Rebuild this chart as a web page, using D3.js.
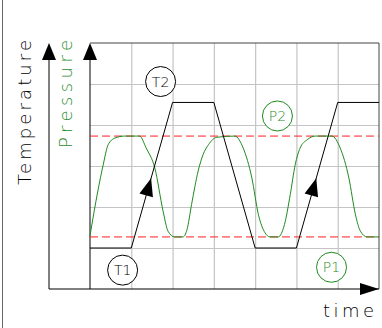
<!DOCTYPE html>
<html lang="en">
<head>
  <meta charset="UTF-8">
  <title>Temperature / Pressure</title>
  <style>
    body, html {
      margin: 0;
      padding: 0;
      background: #fff;
    }
    svg text {
      font-family: 'DejaVu Sans', sans-serif;
      font-weight: 200;
    }
  </style>
</head>
<body>
  <svg id="chart" width="382" height="328"></svg>

  <script src="https://d3js.org/d3.v7.min.js"></script>
  <script>
    // -------- DATA ------------
    // time in grid columns (0..7), values in grid rows (0..6)
    const xTicks = [1, 2, 3, 4, 5, 6]
    const yTicks = [1, 2, 3, 4, 5]

    const tempTime = [0, 1, 2, 3, 4, 5, 6, 7]
    const tempValue = [1, 1, 4.55, 4.55, 1, 1, 4.55, 4.55]

    const pressTime = [0, 0.19, 0.32, 0.44, 0.6, 0.84, 1.2, 1.36, 1.57, 1.77, 1.89, 2.05, 2.25, 2.35, 2.46,
      2.62, 2.74, 2.87, 3.07, 3.51, 3.71, 3.92, 4.08, 4.24, 4.36, 4.56, 4.71, 4.85, 4.97, 5.09,
      5.26, 5.46, 5.86, 6.06, 6.27, 6.43, 6.55, 6.71, 7]
    const pressValue = [1.3, 2.39, 3.03, 3.52, 3.68, 3.73, 3.73, 3.44, 2.95, 1.9, 1.41, 1.27, 1.27, 1.45, 2.06,
      2.88, 3.28, 3.52, 3.7, 3.73, 3.44, 2.71, 1.81, 1.37, 1.27, 1.27, 1.57, 2.3, 3.03, 3.44,
      3.64, 3.73, 3.73, 3.44, 2.71, 1.81, 1.41, 1.27, 1.27]

    // pressure limits (red dashed)
    const limits = [1.27, 3.73]

    // circled labels
    const labelNames = ['T1', 'T2', 'P1', 'P2']
    const labelTime = [0.79, 1.71, 5.85, 4.54]
    const labelValue = [0.46, 5.06, 0.53, 4.22]

    // -------- SETUP ------------
    const svg = d3.select('#chart')
    const green = '#1f8a1f'

    const plot = {left: 90, right: 379, top: 43, bottom: 289}
    const axis2 = 49 // second vertical axis

    const xScale = d3.scaleLinear().domain([0, 7]).range([plot.left, plot.right])
    const yScale = d3.scaleLinear().domain([0, 6]).range([plot.bottom, plot.top])

    // page frame (left edge only)
    svg.append('line')
      .attr('x1', 2.5).attr('x2', 2.5)
      .attr('y1', 0).attr('y2', 328)
      .attr('stroke', '#666')

    // -------- GRID ------------
    const gridX = svg.append('g')
      .attr('transform', `translate(0, ${plot.bottom})`)
      .call(d3.axisBottom(xScale).tickValues(xTicks).tickSize(-(plot.bottom - plot.top)).tickFormat(''))
    const gridY = svg.append('g')
      .attr('transform', `translate(${plot.left}, 0)`)
      .call(d3.axisLeft(yScale).tickValues(yTicks).tickSize(-(plot.right - plot.left)).tickFormat(''))
    ;[gridX, gridY].forEach(g => {
      g.select('.domain').remove()
      g.selectAll('line').attr('stroke', '#c4c4c4').attr('stroke-width', 1.2)
    })

    // top and right border
    svg.append('path')
      .attr('d', `M${plot.left},${plot.top}H${plot.right}V${plot.bottom}`)
      .attr('fill', 'none')
      .attr('stroke', '#444')

    // -------- AXES ------------
    svg.append('line')
      .attr('x1', axis2).attr('x2', plot.right)
      .attr('y1', plot.bottom).attr('y2', plot.bottom)
      .attr('stroke', '#000')
    ;[axis2, plot.left].forEach(ax => {
      svg.append('line')
        .attr('x1', ax).attr('x2', ax)
        .attr('y1', plot.top + 5).attr('y2', plot.bottom)
        .attr('stroke', '#000')
      svg.append('path')
        .attr('d', `M${ax},${plot.top}L${ax - 7},${plot.top + 17}L${ax + 7},${plot.top + 17}Z`)
        .attr('fill', '#000')
    })
    svg.append('path')
      .attr('d', `M${plot.right},${plot.bottom}L${plot.right - 19},${plot.bottom - 6}L${plot.right - 19},${plot.bottom + 6}Z`)
      .attr('fill', '#000')

    // axis titles
    svg.append('text')
      .attr('transform', `translate(31, 40) rotate(-90)`)
      .attr('text-anchor', 'end')
      .attr('textLength', 145)
      .attr('lengthAdjust', 'spacing')
      .style('font-size', '18px')
      .attr('fill', '#000')
      .text('Temperature')
    svg.append('text')
      .attr('transform', `translate(72, 40) rotate(-90)`)
      .attr('text-anchor', 'end')
      .attr('textLength', 108)
      .attr('lengthAdjust', 'spacing')
      .style('font-size', '18px')
      .attr('fill', green)
      .text('Pressure')
    svg.append('text')
      .attr('x', 323)
      .attr('y', 317)
      .attr('textLength', 51)
      .attr('lengthAdjust', 'spacing')
      .style('font-size', '18px')
      .attr('fill', '#000')
      .text('time')

    // -------- LIMITS ------------
    svg.selectAll('.limit')
      .data(limits)
      .enter()
      .append('line')
      .attr('class', 'limit')
      .attr('x1', plot.left).attr('x2', plot.right)
      .attr('y1', d => yScale(d)).attr('y2', d => yScale(d))
      .attr('stroke', '#ff2020')
      .attr('stroke-dasharray', '8,4')

    // -------- PRESSURE ------------
    const pressData = pressTime.map((t, i) => ({ t, v: pressValue[i] }))
    svg.append('path')
      .datum(pressData)
      .attr('fill', 'none')
      .attr('stroke', green)
      .attr('stroke-width', 1)
      .attr('d', d3.line().x(d => xScale(d.t)).y(d => yScale(d.v)).curve(d3.curveMonotoneX))

    // -------- TEMPERATURE ------------
    const tempData = tempTime.map((t, i) => ({ t, v: tempValue[i] }))
    svg.append('path')
      .datum(tempData)
      .attr('fill', 'none')
      .attr('stroke', '#000')
      .attr('stroke-width', 1)
      .attr('d', d3.line().x(d => xScale(d.t)).y(d => yScale(d.v)))

    // arrows on the rising segments
    tempData.forEach((d, i) => {
      const next = tempData[i + 1]
      if (!next || next.v <= d.v) return
      const x0 = xScale(d.t), y0 = yScale(d.v)
      const x1 = xScale(next.t), y1 = yScale(next.v)
      const len = Math.hypot(x1 - x0, y1 - y0)
      const ux = (x1 - x0) / len, uy = (y1 - y0) / len
      const tipX = x0 + (x1 - x0) * 0.48, tipY = y0 + (y1 - y0) * 0.48
      const bx = tipX - ux * 18, by = tipY - uy * 18
      svg.append('path')
        .attr('d', `M${tipX},${tipY}L${bx - uy * 7},${by + ux * 7}L${bx + uy * 7},${by - ux * 7}Z`)
        .attr('fill', '#000')
    })

    // -------- LABELS ------------
    labelNames.forEach((name, i) => {
      const col = name[0] === 'P' ? green : '#000'
      const g = svg.append('g')
        .attr('transform', `translate(${xScale(labelTime[i])}, ${yScale(labelValue[i])})`)
      g.append('circle')
        .attr('r', 15)
        .attr('fill', '#fff')
        .attr('stroke', col)
      g.append('text')
        .attr('text-anchor', 'middle')
        .attr('dy', '0.36em')
        .style('font-size', '14px')
        .attr('fill', col)
        .text(name)
    })
  </script>
</body>
</html>
